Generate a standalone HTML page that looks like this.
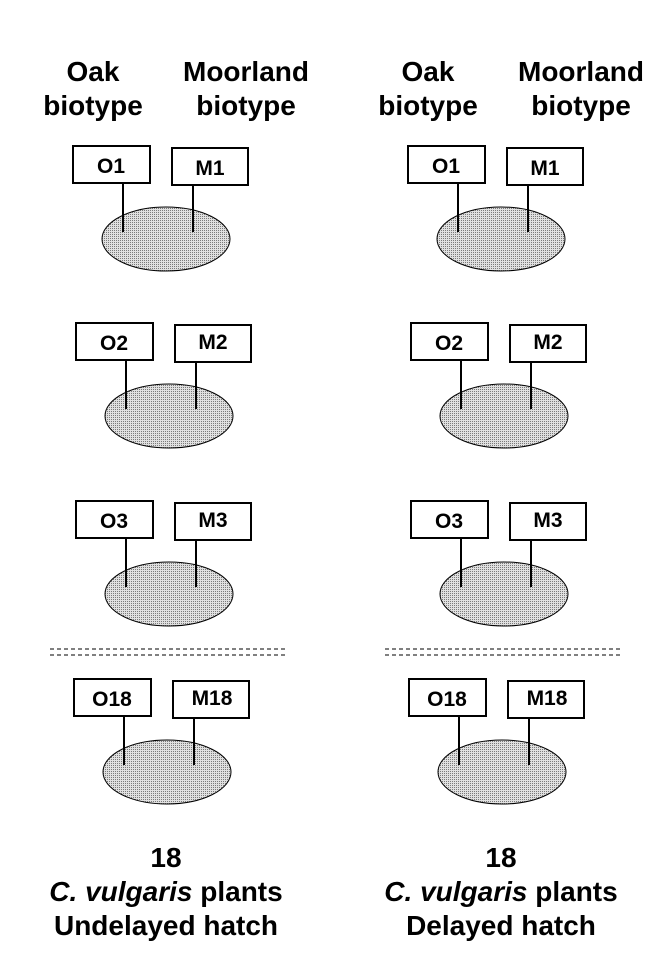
<!DOCTYPE html>
<html><head><meta charset="utf-8"><style>
html,body{margin:0;padding:0;background:#fff;}
svg{display:block;}
text{font-family:"Liberation Sans",Arial,sans-serif;font-weight:bold;fill:#000;}
</style></head><body>
<svg width="672" height="960" viewBox="0 0 672 960" xmlns="http://www.w3.org/2000/svg">
<defs>
<pattern id="dots" width="2" height="2" patternUnits="userSpaceOnUse">
<rect width="2" height="2" fill="#e0e0e0"/>
<rect width="1" height="1" fill="#7a7a7a"/>
</pattern>
<g id="grp">
<ellipse cx="166" cy="239" rx="64" ry="32" fill="url(#dots)" stroke="#000" stroke-width="1"/>
<line x1="123" y1="183" x2="123" y2="232" stroke="#000" stroke-width="2"/>
<line x1="193" y1="185" x2="193" y2="232" stroke="#000" stroke-width="2"/>
<rect x="73" y="146" width="77" height="37" fill="#fff" stroke="#000" stroke-width="2"/>
<rect x="172" y="148" width="76" height="37" fill="#fff" stroke="#000" stroke-width="2"/>
</g>
<g id="dash">
<line x1="50" y1="649" x2="287" y2="649" stroke="#000" stroke-width="1" stroke-dasharray="4,3"/>
<line x1="50" y1="655" x2="287" y2="655" stroke="#000" stroke-width="1" stroke-dasharray="4,3"/>
</g>
</defs>

<g font-size="28" text-anchor="middle">
<text x="93" y="81">Oak</text><text x="93" y="115">biotype</text>
<text x="246" y="81">Moorland</text><text x="246" y="115">biotype</text>
<text x="428" y="81">Oak</text><text x="428" y="115">biotype</text>
<text x="581" y="81">Moorland</text><text x="581" y="115">biotype</text>
</g>

<g>
<use href="#grp"/>
<use href="#grp" transform="translate(3,177)"/>
<use href="#grp" transform="translate(3,355)"/>
<use href="#grp" transform="translate(1,533)"/>
<use href="#dash"/>
</g>
<g transform="translate(335,0)">
<use href="#grp"/>
<use href="#grp" transform="translate(3,177)"/>
<use href="#grp" transform="translate(3,355)"/>
<use href="#grp" transform="translate(1,533)"/>
<use href="#dash"/>
</g>

<g font-size="21" text-anchor="middle">
<text x="111" y="173">O1</text><text x="210" y="175">M1</text>
<text x="114" y="350">O2</text><text x="213" y="349">M2</text>
<text x="114" y="528">O3</text><text x="213" y="527">M3</text>
<text x="112" y="706">O18</text><text x="212" y="705">M18</text>
<text x="446" y="173">O1</text><text x="545" y="175">M1</text>
<text x="449" y="350">O2</text><text x="548" y="349">M2</text>
<text x="449" y="528">O3</text><text x="548" y="527">M3</text>
<text x="447" y="706">O18</text><text x="547" y="705">M18</text>
</g>

<g font-size="28" text-anchor="middle">
<text x="166" y="867">18</text>
<text x="166" y="901"><tspan font-style="italic">C. vulgaris</tspan> plants</text>
<text x="166" y="935">Undelayed hatch</text>
<text x="501" y="867">18</text>
<text x="501" y="901"><tspan font-style="italic">C. vulgaris</tspan> plants</text>
<text x="501" y="935">Delayed hatch</text>
</g>
</svg>
</body></html>
